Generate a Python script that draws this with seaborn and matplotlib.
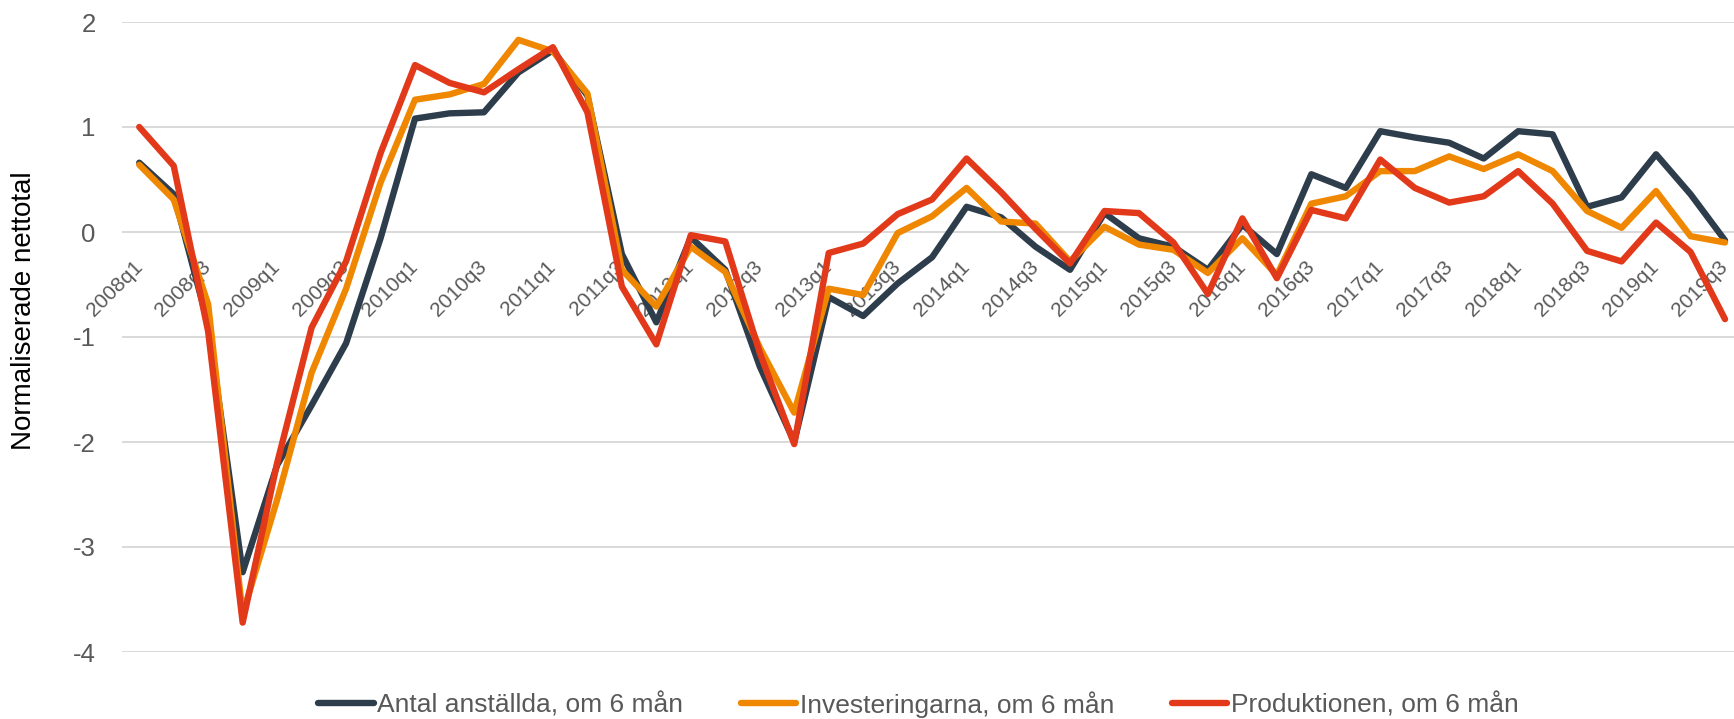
import pandas as pd
import seaborn as sns
import matplotlib.pyplot as plt

# kvartal 2008q1 .. 2019q3
quarters = [f"{y}q{q}" for y in range(2008, 2020) for q in range(1, 5)][:47]

anstallda = [0.66, 0.36, -0.88, -3.24, -2.22, -1.65, -1.06, -0.06, 1.08, 1.13,
             1.14, 1.52, 1.73, 1.30, -0.21, -0.86, -0.05, -0.36, -1.28, -2.00,
             -0.62, -0.80, -0.49, -0.24, 0.24, 0.14, -0.14, -0.36, 0.18, -0.06,
             -0.14, -0.36, 0.07, -0.21, 0.55, 0.42, 0.96, 0.90, 0.85, 0.70,
             0.96, 0.93, 0.24, 0.33, 0.74, 0.36, -0.08]

investeringar = [0.64, 0.31, -0.69, -3.64, -2.55, -1.34, -0.54, 0.47, 1.26, 1.31,
                 1.41, 1.83, 1.72, 1.32, -0.36, -0.71, -0.14, -0.38, -1.10, -1.72,
                 -0.54, -0.60, -0.01, 0.15, 0.42, 0.10, 0.08, -0.28, 0.05, -0.12,
                 -0.17, -0.39, -0.06, -0.41, 0.27, 0.34, 0.58, 0.58, 0.72, 0.60,
                 0.74, 0.58, 0.20, 0.04, 0.39, -0.04, -0.10]

produktion = [1.00, 0.63, -0.95, -3.72, -2.20, -0.91, -0.28, 0.75, 1.59, 1.42,
              1.33, 1.55, 1.76, 1.14, -0.52, -1.07, -0.03, -0.09, -1.15, -2.02,
              -0.20, -0.11, 0.17, 0.31, 0.70, 0.38, 0.03, -0.30, 0.20, 0.18,
              -0.10, -0.59, 0.13, -0.44, 0.21, 0.13, 0.69, 0.42, 0.28, 0.34,
              0.58, 0.27, -0.18, -0.28, 0.09, -0.19, -0.83]

series_names = ["Antal anställda, om 6 mån", "Investeringarna, om 6 mån",
                "Produktionen, om 6 mån"]
colors = ["#2E3D4B", "#F08700", "#E2391A"]
ytick_values = [-4, -3, -2, -1, 0, 1, 2]

df = pd.DataFrame({
    "pos": range(len(quarters)),
    "kvartal": quarters,
    series_names[0]: anstallda,
    series_names[1]: investeringar,
    series_names[2]: produktion,
})
long = df.melt(id_vars=["pos", "kvartal"], var_name="serie", value_name="varde")

sns.set_style("white")
plt.rcParams["font.family"] = ["Liberation Sans", "DejaVu Sans"]

W, H = 1734, 719
fig = plt.figure(figsize=(W / 100, H / 100), dpi=100)
ax = fig.add_axes([122 / W, 1 - 652 / H, (W - 122) / W, 630 / H])

sns.lineplot(data=long, x="pos", y="varde", hue="serie", hue_order=series_names,
             palette=colors, linewidth=4.6, sort=False, ax=ax,
             solid_capstyle="round", solid_joinstyle="round")

ax.set_xlim(-0.5, (W - 138) / 34.5)
ax.set_ylim(-4, 2)
ax.set_yticks(ytick_values)
ax.set_yticklabels([str(v) for v in ytick_values])
ax.yaxis.grid(True, color="#D9D9D9", linewidth=1.4)
ax.set_axisbelow(True)
for s in ["top", "right", "left"]:
    ax.spines[s].set_visible(False)
ax.spines["bottom"].set_position(("data", 0))
ax.spines["bottom"].set_visible(False)

ax.set_xticks(range(0, len(quarters), 2))
ax.set_xticklabels(quarters[::2], rotation=45, ha="right", va="center",
                   rotation_mode="anchor")
ax.tick_params(axis="x", length=0, pad=23, labelsize=15, labelcolor="#595959")
ax.tick_params(axis="y", length=0, pad=19, labelsize=18.5, labelcolor="#595959")
ax.set_xlabel("")
ax.set_ylabel("")

fig.text(24 / W, 1 - 311 / H, "Normaliserade nettotal", rotation=90,
         ha="center", va="center", fontsize=20, color="black")

handles, labels = ax.get_legend_handles_labels()
ax.legend(handles, labels, loc="center", bbox_to_anchor=(0.494, -0.083), ncol=3,
          frameon=False, fontsize=19, handlelength=2.1, handletextpad=0.12,
          columnspacing=2.2, labelcolor="#595959")

fig.savefig("out.png", dpi=100)
